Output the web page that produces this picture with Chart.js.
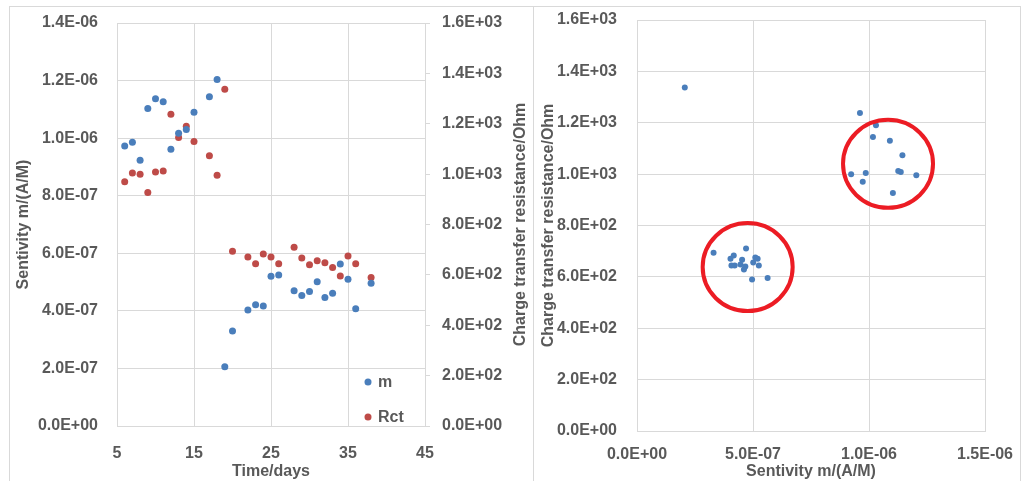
<!DOCTYPE html>
<html>
<head>
<meta charset="utf-8">
<script src="https://cdn.jsdelivr.net/npm/chart.js@4.4.1/dist/chart.umd.min.js"></script>
<style>
  body { margin: 0; background: #fff; width: 1023px; height: 481px; overflow: hidden; position: relative; }
  .panel { position: absolute; border: 1px solid #d9d9d9; box-sizing: border-box; }
  #p1 { left: 9px; top: 6px; width: 525px; height: 490px; }
  #p2 { left: 533px; top: 6px; width: 488px; height: 490px; }
  canvas { position: absolute; }
  #c1 { left: 10px; top: 7px; }
  #c2 { left: 534px; top: 7px; }
</style>
</head>
<body>
<div class="panel" id="p1"></div>
<div class="panel" id="p2"></div>
<canvas id="c1" width="523" height="474"></canvas>
<canvas id="c2" width="486" height="474"></canvas>
<script>
// measurement days
const days = [6, 7, 8, 9, 10, 11, 12, 13, 14, 15, 17, 18, 19, 20, 22, 23, 24, 25, 26, 28, 29, 30, 31, 32, 33, 34, 35, 36, 38];
// sensitivity m, A/M
const mValues = [0.973e-6, 0.986e-6, 0.923e-6, 1.103e-6, 1.137e-6, 1.126e-6, 0.961e-6, 1.017e-6, 1.030e-6, 1.090e-6,
  1.144e-6, 1.204e-6, 0.206e-6, 0.330e-6, 0.403e-6, 0.421e-6, 0.417e-6, 0.520e-6, 0.525e-6, 0.470e-6,
  0.453e-6, 0.467e-6, 0.501e-6, 0.446e-6, 0.461e-6, 0.563e-6, 0.510e-6, 0.407e-6, 0.496e-6];
// charge transfer resistance, Ohm
const rctValues = [970, 1004, 1000, 927, 1008, 1012, 1238, 1145, 1190, 1130,
  1073, 996, 1337, 694, 671, 644, 683, 671, 644, 710,
  667, 640, 656, 648, 629, 596, 675, 644, 590];

const dayTicks = [5, 15, 25, 35, 45];
const mTicks = [0, 2e-7, 4e-7, 6e-7, 8e-7, 1e-6, 1.2e-6, 1.4e-6];
const rctTicks = [0, 200, 400, 600, 800, 1000, 1200, 1400, 1600];
const mAxisTicks = [0, 5e-7, 1e-6, 1.5e-6];

// clusters circled on the right chart (data units)
const clusters = [
  { x: 1.082e-6, y: 1040 },
  { x: 0.477e-6, y: 638 }
];

const BLUE = '#4a7ebb';
const RED = '#be4b48';
const GRID = '#d9d9d9';
const TEXT = '#595959';
const FONT = { family: 'Liberation Sans, Arial, sans-serif', size: 16, weight: 'bold' };

function sci(v) {
  if (Math.abs(v) < 1e-20) return '0.0E+00';
  const parts = v.toExponential(1).split('e');
  const n = parseInt(parts[1], 10);
  return parts[0] + 'E' + (n < 0 ? '-' : '+') + String(Math.abs(n)).padStart(2, '0');
}
function fixTicks(arr) {
  return function (scale) { scale.ticks = arr.map(v => ({ value: v })); };
}
// force axis box sizes so the plot area lands where the original has it
function fixWidth(w) {
  return function (scale) { scale.width = w; scale.paddingTop = 0; scale.paddingBottom = 0; };
}
function fixHeight(h) {
  return function (scale) { scale.height = h; scale.paddingLeft = 0; scale.paddingRight = 0; };
}

const leftExtras = {
  id: 'leftExtras',
  afterDraw(chart) {
    const ctx = chart.ctx, a = chart.chartArea;
    ctx.save();
    ctx.font = 'bold 16px Liberation Sans, Arial, sans-serif';
    ctx.fillStyle = TEXT;
    // right axis title, reading upwards
    ctx.translate(511, (a.top + a.bottom) / 2);
    ctx.rotate(-Math.PI / 2);
    ctx.textAlign = 'center';
    ctx.textBaseline = 'middle';
    ctx.fillText(chart.options.scales.y2.titleText, 0, 0);
    ctx.restore();

    // legend inside the plot
    ctx.save();
    ctx.font = 'bold 16px Liberation Sans, Arial, sans-serif';
    ctx.textBaseline = 'middle';
    chart.data.datasets.forEach((ds, i) => {
      const x = a.right - 57;
      const y = a.bottom - 44 + i * 35;
      ctx.fillStyle = ds.backgroundColor;
      ctx.beginPath();
      ctx.arc(x, y, 3.5, 0, Math.PI * 2);
      ctx.fill();
      ctx.fillStyle = TEXT;
      ctx.fillText(ds.label, x + 10, y + 1);
    });
    ctx.restore();
  }
};

const circlesPlugin = {
  id: 'circles',
  afterDatasetsDraw(chart) {
    const ctx = chart.ctx, sx = chart.scales.x, sy = chart.scales.y;
    ctx.save();
    ctx.strokeStyle = '#ec1c24';
    ctx.lineWidth = 4;
    clusters.forEach(c => {
      ctx.beginPath();
      ctx.ellipse(sx.getPixelForValue(c.x), sy.getPixelForValue(c.y), 45, 44, 0, 0, Math.PI * 2);
      ctx.stroke();
    });
    ctx.restore();
  }
};

new Chart(document.getElementById('c1'), {
  type: 'scatter',
  data: {
    datasets: [
      {
        label: 'm',
        data: days.map((d, i) => ({ x: d, y: mValues[i] })),
        yAxisID: 'y',
        backgroundColor: BLUE, borderColor: BLUE, pointRadius: 3.5, borderWidth: 0
      },
      {
        label: 'Rct',
        data: days.map((d, i) => ({ x: d, y: rctValues[i] })),
        yAxisID: 'y2',
        backgroundColor: RED, borderColor: RED, pointRadius: 3.5, borderWidth: 0
      }
    ]
  },
  options: {
    responsive: false,
    animation: false,
    layout: { padding: { top: 16, left: 0, right: 0, bottom: 0 } },
    plugins: { legend: { display: false }, tooltip: { enabled: false } },
    scales: {
      x: {
        type: 'linear', min: 5, max: 45,
        afterBuildTicks: fixTicks(dayTicks),
        afterFit: fixHeight(55),
        grid: { color: GRID, drawTicks: false },
        border: { color: GRID },
        ticks: { color: TEXT, font: FONT, padding: 18 },
        title: { display: true, text: 'Time/days', color: TEXT, font: FONT, padding: { top: 0, bottom: 0 } }
      },
      y: {
        position: 'left', min: 0, max: 1.4e-6,
        afterBuildTicks: fixTicks(mTicks),
        afterFit: fixWidth(107),
        grid: { color: GRID, drawTicks: false },
        border: { color: GRID },
        ticks: { color: TEXT, font: FONT, padding: 19, callback: v => sci(v) },
        title: { display: true, text: 'Sentivity m/(A/M)', color: TEXT, font: FONT, padding: { top: 4, bottom: 0 } }
      },
      y2: {
        position: 'right', min: 0, max: 1600,
        titleText: 'Charge transfer resistance/Ohm',
        afterBuildTicks: fixTicks(rctTicks),
        afterFit: fixWidth(108),
        grid: { color: GRID, drawOnChartArea: false, drawTicks: true, tickLength: 5 },
        border: { color: GRID },
        ticks: { color: TEXT, font: FONT, padding: 12, callback: v => sci(v) }
      }
    }
  },
  plugins: [leftExtras]
});

new Chart(document.getElementById('c2'), {
  type: 'scatter',
  data: {
    datasets: [{
      label: 'Rct vs m',
      data: mValues.map((m, i) => ({ x: m, y: rctValues[i] })),
      backgroundColor: BLUE, borderColor: BLUE, pointRadius: 3, borderWidth: 0
    }]
  },
  options: {
    responsive: false,
    animation: false,
    layout: { padding: { top: 13, left: 0, right: 35, bottom: 0 } },
    plugins: { legend: { display: false }, tooltip: { enabled: false } },
    scales: {
      x: {
        type: 'linear', min: 0, max: 1.5e-6,
        afterBuildTicks: fixTicks(mAxisTicks),
        afterFit: fixHeight(50),
        grid: { color: GRID, drawTicks: false },
        border: { color: GRID },
        ticks: { color: TEXT, font: FONT, padding: 14, callback: v => sci(v) },
        title: { display: true, text: 'Sentivity m/(A/M)', color: TEXT, font: FONT, padding: { top: 0, bottom: 0 } }
      },
      y: {
        min: 0, max: 1600,
        afterBuildTicks: fixTicks(rctTicks),
        afterFit: fixWidth(103),
        grid: { color: GRID, drawTicks: false },
        border: { color: GRID },
        ticks: { color: TEXT, font: FONT, padding: 20, callback: v => sci(v) },
        title: { display: true, text: 'Charge transfer resistance/Ohm', color: TEXT, font: FONT, padding: { top: 5, bottom: 0 } }
      }
    }
  },
  plugins: [circlesPlugin]
});
</script>
</body>
</html>
